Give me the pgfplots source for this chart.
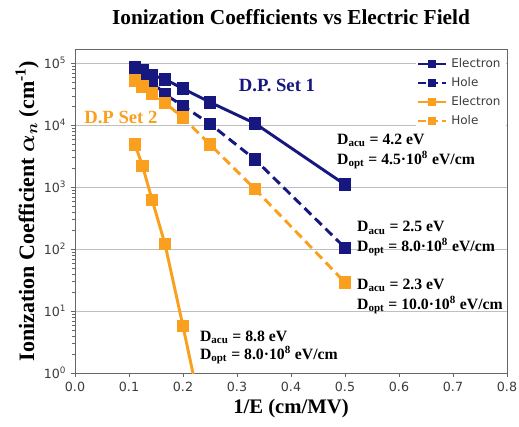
\documentclass[border=0pt]{standalone}
\usepackage{amsmath}
\usepackage{fontspec}
\setmainfont{Liberation Serif}
\newfontfamily\dejavu{DejaVu Sans}
\usepackage{pgfplots}
\pgfplotsset{compat=1.18}

\definecolor{setnavy}{RGB}{22,24,128}
\definecolor{setorange}{RGB}{250,160,30}
\definecolor{ticktext}{RGB}{60,60,60}

\begin{document}
\begin{tikzpicture}
% picture frame: 1 px of the reference = 0.75pt
\path[use as bounding box] (-56.25pt,-39.75pt) rectangle (333pt,279.75pt);
\begin{axis}[
  scale only axis, width=324pt, height=243pt,
  xmin=0, xmax=0.8, ymode=log, ymin=1, ymax=1.7e5,
  xtick={0,0.1,...,0.8},
  xticklabel style={font=\dejavu\fontsize{9.5}{11}\selectfont, text=ticktext,
    /pgf/number format/.cd, fixed, fixed zerofill, precision=1, assume math mode=true},
  ytick={1,10,100,1000,10000,100000},
  yticklabels={10\textsuperscript{0},10\textsuperscript{1},10\textsuperscript{2},10\textsuperscript{3},10\textsuperscript{4},10\textsuperscript{5}},
  yticklabel style={font=\dejavu\fontsize{9.5}{11}\selectfont, text=ticktext},
  tick align=outside, major tick length=3pt, minor tick length=2pt,
  tick style={black!60}, axis line style={black!60},
  xtick pos=bottom, ytick pos=left,
  ymajorgrids, major grid style={black!25, line width=0.6pt},
  title={\fontsize{16}{18}\selectfont\bfseries Ionization Coefficients vs Electric Field},
  title style={yshift=9pt},
  xlabel={\fontsize{15.5}{18}\selectfont\bfseries 1/E (cm/MV)},
  ylabel={\fontsize{16.5}{19}\selectfont\bfseries Ionization Coefficient $\boldsymbol{\alpha_n}$ (cm\textsuperscript{-1})},
  xlabel style={yshift=1pt},
  ylabel style={yshift=-3pt},
  legend style={at={(0.998,0.985)}, anchor=north east, draw=none, fill=white,
    font=\dejavu\fontsize{9}{10}\selectfont, text=ticktext, row sep=2pt,
    inner sep=1pt, nodes={inner xsep=3pt, inner ysep=2pt}},
  legend cell align=left,
  legend image code/.code={\draw[mark repeat=2, mark phase=2, #1, line width=1.5pt, mark size=2.2pt]
    plot coordinates {(0pt,0pt)(10.5pt,0pt)(21pt,0pt)};},
  every axis plot/.append style={line width=2.2pt, mark=square*, mark size=3.6pt,
    mark options={solid}},
]
% D.P. Set 1, electron
\addplot[setnavy] coordinates {
 (0.1111,87000)(0.125,76000)(0.1429,64500)(0.1667,55000)
 (0.2,39000)(0.25,23500)(0.3333,10700)(0.5,1100)
};
% D.P. Set 1, hole
\addplot[setnavy, dash pattern=on 7pt off 4pt, legend image post style={dash pattern=on 6pt off 3pt}] coordinates {
 (0.1111,81000)(0.125,67500)(0.1429,50000)(0.1667,31500)
 (0.2,20500)(0.25,10500)(0.3333,2800)(0.5,105)
};
% D.P. Set 2, electron
\addplot[setorange] coordinates {
 (0.1111,4900)(0.125,2200)(0.1429,620)(0.1667,120)
 (0.2,5.7)(0.25,0.05)
};
% D.P. Set 2, hole
\addplot[setorange, dash pattern=on 7pt off 4pt, legend image post style={dash pattern=on 6pt off 3pt}] coordinates {
 (0.1111,52500)(0.125,42000)(0.1429,32500)(0.1667,23000)
 (0.2,13200)(0.25,4900)(0.3333,930)(0.5,29)
};
\legend{Electron, Hole, Electron, Hole}

\node[text=setnavy, font=\fontsize{14}{16}\selectfont\bfseries] at (axis cs:0.374,44000) {D.P. Set 1};
\node[text=setorange, font=\fontsize{14}{16}\selectfont\bfseries] at (axis cs:0.085,13500) {D.P Set 2};

\begin{scope}[every node/.style={anchor=west, font=\fontsize{11.8}{14}\selectfont\bfseries, inner sep=0pt}]
\node at (axis cs:0.485,5750) {D\textsubscript{acu} = 4.2 eV};
\node at (axis cs:0.485,2750) {D\textsubscript{opt} = 4.5·10\textsuperscript{8} eV/cm};
\node at (axis cs:0.522,219) {D\textsubscript{acu} = 2.5 eV};
\node at (axis cs:0.522,107) {D\textsubscript{opt} = 8.0·10\textsuperscript{8} eV/cm};
\node at (axis cs:0.522,26) {D\textsubscript{acu} = 2.3 eV};
\node at (axis cs:0.522,12.6) {D\textsubscript{opt} = 10.0·10\textsuperscript{8} eV/cm};
\node at (axis cs:0.231,3.8) {D\textsubscript{acu} = 8.8 eV};
\node at (axis cs:0.231,1.95) {D\textsubscript{opt} = 8.0·10\textsuperscript{8} eV/cm};
\end{scope}
\end{axis}
\end{tikzpicture}
\end{document}
